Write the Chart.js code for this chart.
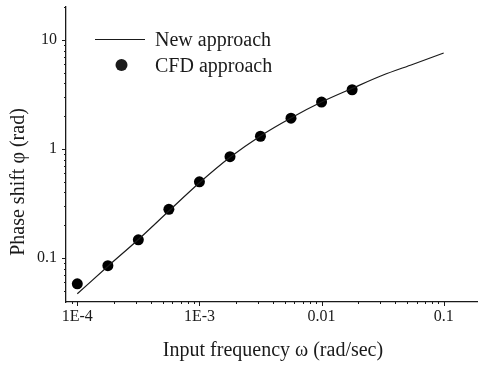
<!DOCTYPE html>
<html lang="en">
<head>
    <meta charset="UTF-8">
    <title>Phase shift vs input frequency</title>
    <script src="https://cdn.jsdelivr.net/npm/chart.js"></script>
    <style>
        body {
            margin: 0;
            background: #fff;
        }
        #phaseChart {
            display: block;
        }
    </style>
</head>
<body>
    <canvas id="phaseChart" width="478" height="370"></canvas>
    <script>
        // New approach (continuous curve)
        const freqNew = [1e-4, 1.78e-4, 3.16e-4, 5.62e-4, 1e-3, 1.78e-3, 3.16e-3, 5.62e-3, 0.01, 0.0178, 0.0316, 0.0562, 0.1];
        const phaseNew = [0.047, 0.084, 0.148, 0.27, 0.49, 0.84, 1.32, 1.93, 2.7, 3.6, 4.75, 6.0, 7.6];

        // CFD approach (markers)
        const freqCfd = [1e-4, 1.78e-4, 3.16e-4, 5.62e-4, 1e-3, 1.78e-3, 3.16e-3, 5.62e-3, 0.01, 0.0178];
        const phaseCfd = [0.058, 0.085, 0.147, 0.28, 0.50, 0.85, 1.31, 1.92, 2.7, 3.5];

        const xTickValues = [1e-4, 1e-3, 0.01, 0.1];
        const xTickLabels = ['1E-4', '1E-3', '0.01', '0.1'];
        const yTickValues = [0.1, 1, 10];
        const yTickLabels = ['0.1', '1', '10'];

        const serif = "'Liberation Serif', 'Times New Roman', serif";
        const ink = '#1a1a1a';

        function labelFor(values, labels) {
            return (value) => {
                const i = values.findIndex(v => Math.abs(value - v) / v < 1e-6);
                return i >= 0 ? labels[i] : '';
            };
        }

        // short outward ticks at 1..9 x 10^n, longer at each decade
        const logTicks = {
            id: 'logTicks',
            afterDraw(chart) {
                const ctx = chart.ctx;
                const area = chart.chartArea;
                ctx.save();
                ctx.strokeStyle = ink;
                ctx.lineWidth = 1;
                ['x', 'y'].forEach(id => {
                    const scale = chart.scales[id];
                    scale.ticks.forEach(t => {
                        const exp = Math.floor(Math.log10(t.value) + 1e-9);
                        const m = t.value / Math.pow(10, exp);
                        const r = Math.round(m);
                        if (Math.abs(m - r) > 1e-6) return;
                        const len = r === 1 ? 4 : 2;
                        const p = Math.round(scale.getPixelForValue(t.value)) + 0.5;
                        ctx.beginPath();
                        if (id === 'x') {
                            if (p < area.left + 1 || p > area.right) return;
                            ctx.moveTo(p, area.bottom);
                            ctx.lineTo(p, area.bottom + len);
                        } else {
                            if (p < area.top || p > area.bottom - 1) return;
                            ctx.moveTo(area.left, p);
                            ctx.lineTo(area.left - len, p);
                        }
                        ctx.stroke();
                    });
                });
                ctx.restore();
            }
        };

        // axis titles and the legend box
        const annotations = {
            id: 'annotations',
            afterDraw(chart) {
                const ctx = chart.ctx;
                ctx.save();
                ctx.fillStyle = ink;
                ctx.font = '20px ' + serif;

                ctx.textAlign = 'center';
                ctx.textBaseline = 'middle';
                ctx.fillText('Input frequency \u03C9 (rad/sec)', 273, 351);

                ctx.save();
                ctx.translate(19, 182);
                ctx.rotate(-Math.PI / 2);
                ctx.fillText('Phase shift \u03C6 (rad)', 0, 0);
                ctx.restore();

                ctx.textAlign = 'left';
                ctx.textBaseline = 'alphabetic';
                ctx.strokeStyle = ink;
                ctx.lineWidth = 1.2;
                ctx.beginPath();
                ctx.moveTo(95, 39.5);
                ctx.lineTo(145, 39.5);
                ctx.stroke();
                ctx.fillText('New approach', 155, 46);

                ctx.beginPath();
                ctx.arc(121.5, 65, 6, 0, Math.PI * 2);
                ctx.fill();
                ctx.fillText('CFD approach', 155, 72);
                ctx.restore();
            }
        };

        const ctx = document.getElementById('phaseChart').getContext('2d');
        new Chart(ctx, {
            type: 'scatter',
            data: {
                datasets: [
                    {
                        label: 'New approach',
                        data: freqNew.map((f, i) => ({ x: f, y: phaseNew[i] })),
                        showLine: true,
                        borderColor: ink,
                        borderWidth: 1.2,
                        pointRadius: 0,
                        cubicInterpolationMode: 'monotone',
                        fill: false
                    },
                    {
                        label: 'CFD approach',
                        data: freqCfd.map((f, i) => ({ x: f, y: phaseCfd[i] })),
                        showLine: false,
                        pointRadius: 5.5,
                        pointBackgroundColor: '#000',
                        pointBorderColor: '#000',
                        pointBorderWidth: 0
                    }
                ]
            },
            options: {
                responsive: false,
                animation: false,
                layout: { autoPadding: false, padding: { top: 7, right: 1, left: 0, bottom: 0 } },
                plugins: {
                    legend: { display: false },
                    tooltip: { enabled: false }
                },
                scales: {
                    x: {
                        type: 'logarithmic',
                        min: 8.08e-5,
                        max: 0.1874,
                        afterFit(scale) {
                            scale.height = 68;
                            scale.paddingLeft = 0;
                            scale.paddingRight = 0;
                        },
                        grid: { display: true, drawOnChartArea: false, drawTicks: false },
                        border: { display: true, color: ink, width: 1.3 },
                        ticks: {
                            autoSkip: false,
                            maxRotation: 0,
                            padding: 5,
                            color: ink,
                            font: { family: serif, size: 16 },
                            callback: labelFor(xTickValues, xTickLabels)
                        }
                    },
                    y: {
                        type: 'logarithmic',
                        min: 0.0395,
                        max: 20.1,
                        afterFit(scale) {
                            scale.width = 66;
                            scale.paddingTop = 0;
                            scale.paddingBottom = 0;
                        },
                        grid: { display: true, drawOnChartArea: false, drawTicks: false },
                        border: { display: true, color: ink, width: 1.3 },
                        ticks: {
                            autoSkip: false,
                            padding: 9,
                            color: ink,
                            font: { family: serif, size: 16 },
                            callback: labelFor(yTickValues, yTickLabels)
                        }
                    }
                }
            },
            plugins: [logTicks, annotations]
        });
    </script>
</body>
</html>
